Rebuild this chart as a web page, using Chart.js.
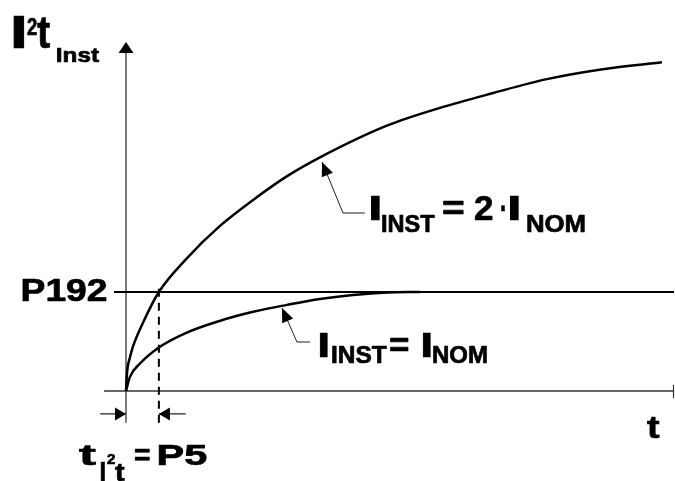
<!DOCTYPE html>
<html>
<head>
<meta charset="utf-8">
<script src="https://cdn.jsdelivr.net/npm/chart.js@4.4.1/dist/chart.umd.min.js"></script>
<style>
  html, body { margin: 0; padding: 0; background: #fff; }
  canvas { display: block; }
</style>
</head>
<body>
<canvas id="chart" width="675" height="481"></canvas>
<script>
// I2t curves (t in % of axis length, I2t relative to P192 level)
var tDouble   = [0, 0.18, 0.73, 1.28, 3.1, 6.0, 11.1, 17.2, 23.2, 29.4, 35.4, 47.6, 57.3, 67.0, 76.8, 87.0, 97.8];
var i2tDouble = [0, 0.18, 0.34, 0.45, 0.69, 1.0, 1.34, 1.67, 1.93, 2.17, 2.36, 2.68, 2.86, 3.01, 3.15, 3.25, 3.32];
var tNom      = [0, 0.7, 2.6, 6.0, 11.1, 17.2, 23.2, 29.4, 35.4, 41.4, 47.6, 53.6];
var i2tNom    = [0, 0.14, 0.28, 0.44, 0.59, 0.71, 0.80, 0.87, 0.93, 0.97, 0.995, 1.0];
var p192Level = 1.0;   // P192
var p5Time = 6.0;      // P5
var tMax = 100, yMax = 3.5;

function pts(xs, ys) {
  var out = [];
  for (var i = 0; i < xs.length; i++) out.push({x: xs[i], y: ys[i]});
  return out;
}

var FONT = '"Liberation Sans", Arial, sans-serif';

// draw text so its visible box starts at left and is width wide
function fitText(ctx, str, left, baseline, size, width) {
  ctx.font = 'bold ' + size + 'px ' + FONT;
  var m = ctx.measureText(str);
  var vis = m.actualBoundingBoxLeft + m.actualBoundingBoxRight;
  var sx = width ? width / vis : 1;
  ctx.save();
  ctx.translate(left + m.actualBoundingBoxLeft * sx, baseline);
  ctx.scale(sx, 1);
  ctx.textAlign = 'left';
  ctx.textBaseline = 'alphabetic';
  ctx.lineWidth = 0.7;
  ctx.lineJoin = 'round';
  ctx.strokeStyle = '#000';
  ctx.fillText(str, 0, 0);
  ctx.strokeText(str, 0, 0);
  ctx.restore();
}

function arrowHead(ctx, tipX, tipY, fromX, fromY, len, half) {
  var a = Math.atan2(tipY - fromY, tipX - fromX);
  ctx.save();
  ctx.translate(tipX, tipY);
  ctx.rotate(a);
  ctx.beginPath();
  ctx.moveTo(0, 0);
  ctx.lineTo(-len, -half);
  ctx.lineTo(-len, half);
  ctx.closePath();
  ctx.fill();
  ctx.restore();
}

var annotations = {
  id: 'annotations',
  afterDatasetsDraw: function(chart) {
    var ctx = chart.ctx;
    var xs = chart.scales.x, ys = chart.scales.y;
    function X(v) { return xs.getPixelForValue(v); }
    function Y(v) { return ys.getPixelForValue(v); }
    ctx.save();
    ctx.fillStyle = '#000';
    ctx.strokeStyle = '#000';

    // y-axis arrow head
    arrowHead(ctx, X(0), Y(3.525), X(0), Y(3.0), 11, 7.5);
    // end tick of the t axis
    ctx.lineWidth = 1.2;
    ctx.strokeStyle = '#333';
    ctx.beginPath();
    ctx.moveTo(X(tMax) - 0.5, Y(0) - 6);
    ctx.lineTo(X(tMax) - 0.5, Y(0) + 7);
    ctx.stroke();

    // dimension arrows for P5
    var dimY = Y(-0.232);
    arrowHead(ctx, X(0), dimY, X(-4.7), dimY, 11, 6.5);
    arrowHead(ctx, X(p5Time), dimY, X(10.9), dimY, 11, 6.5);

    // leader lines
    ctx.lineWidth = 1;
    ctx.strokeStyle = '#222';
    var leaders = [
      {tip: [35.77, 2.313], corner: [39.6, 1.798], end: [43.6, 1.798]},
      {tip: [28.47, 0.838], corner: [31.2, 0.495], end: [33.6, 0.495]}
    ];
    leaders.forEach(function(l) {
      ctx.beginPath();
      ctx.moveTo(X(l.end[0]), Y(l.end[1]));
      ctx.lineTo(X(l.corner[0]), Y(l.corner[1]));
      ctx.lineTo(X(l.tip[0]), Y(l.tip[1]));
      ctx.stroke();
      arrowHead(ctx, X(l.tip[0]), Y(l.tip[1]), X(l.corner[0]), Y(l.corner[1]), 14, 6);
    });

    // texts
    ctx.fillStyle = '#000';
    // axis title I2t Inst
    fitText(ctx, 'I', 14, 48, 46, 10);
    fitText(ctx, '2', 27, 35, 24, 10);
    fitText(ctx, 't', 37, 48, 46, 13);
    fitText(ctx, 'Inst', 57, 62, 21, 42);
    // P192
    fitText(ctx, 'P192', 23, 301, 31, 83);
    // t axis
    fitText(ctx, 't', 647, 438, 32, 13);
    // upper curve label
    fitText(ctx, 'I', 371, 220, 35, 9);
    fitText(ctx, 'INST', 382, 232, 24, 53);
    fitText(ctx, '=', 443, 220, 35, 20);
    fitText(ctx, '2', 475, 220, 35, 18);
    fitText(ctx, '\u00b7', 501, 220, 35, 4);
    fitText(ctx, 'I', 510, 220, 35, 9);
    fitText(ctx, 'NOM', 527, 232, 24, 58);
    // lower curve label
    fitText(ctx, 'I', 320, 357, 35, 8);
    fitText(ctx, 'INST', 332, 363, 24, 55);
    fitText(ctx, '=', 390, 357, 35, 18);
    fitText(ctx, 'I', 423, 357, 35, 8);
    fitText(ctx, 'NOM', 433, 363, 24, 54);
    // bottom: t_I2t = P5
    fitText(ctx, 't', 79, 465, 30, 17);
    fitText(ctx, 'I', 101, 482, 30, 4);
    fitText(ctx, '2', 107, 464, 15, 8);
    fitText(ctx, 't', 115, 481, 26, 10);
    fitText(ctx, '=', 135, 465, 30, 15);
    fitText(ctx, 'P5', 158, 465, 29, 49);
    ctx.restore();
  }
};

var curveStyle = {borderColor: '#000', borderWidth: 2.5, pointRadius: 0, fill: false,
                  cubicInterpolationMode: 'monotone', clip: false};

new Chart(document.getElementById('chart'), {
  type: 'line',
  data: {
    datasets: [
      Object.assign({label: 'I_INST = 2 I_NOM', data: pts(tDouble, i2tDouble)}, curveStyle),
      Object.assign({label: 'I_INST = I_NOM', data: pts(tNom, i2tNom)}, curveStyle),
      {label: 'P192', data: pts([-2.2, tMax], [p192Level, p192Level]),
       borderColor: '#000', borderWidth: 2, pointRadius: 0, tension: 0, clip: false},
      {label: 'P5', data: pts([p5Time, p5Time], [-0.32, 1.09]),
       borderColor: '#000', borderWidth: 2, borderDash: [8, 6], pointRadius: 0, tension: 0, clip: false},
      {label: 't axis', data: pts([-4.0, tMax], [0, 0]),
       borderColor: '#333', borderWidth: 1.3, pointRadius: 0, tension: 0, clip: false},
      {label: 'I2t axis', data: pts([0, 0], [-0.32, 3.46]),
       borderColor: '#333', borderWidth: 1.3, pointRadius: 0, tension: 0, clip: false},
      {label: 'dim', data: [{x: -4.7, y: -0.232}, {x: 0, y: -0.232}, {x: 3, y: null},
                            {x: p5Time, y: -0.232}, {x: 10.9, y: -0.232}],
       borderColor: '#222', borderWidth: 1.2, pointRadius: 0, tension: 0, spanGaps: false, clip: false}
    ]
  },
  options: {
    responsive: false,
    animation: false,
    devicePixelRatio: 1,
    layout: {padding: {left: 126, right: 1, top: 44.5, bottom: 90}},
    plugins: {legend: {display: false}, tooltip: {enabled: false}},
    scales: {
      x: {type: 'linear', min: 0, max: tMax, display: false},
      y: {type: 'linear', min: 0, max: yMax, display: false}
    }
  },
  plugins: [annotations]
});
</script>
</body>
</html>
